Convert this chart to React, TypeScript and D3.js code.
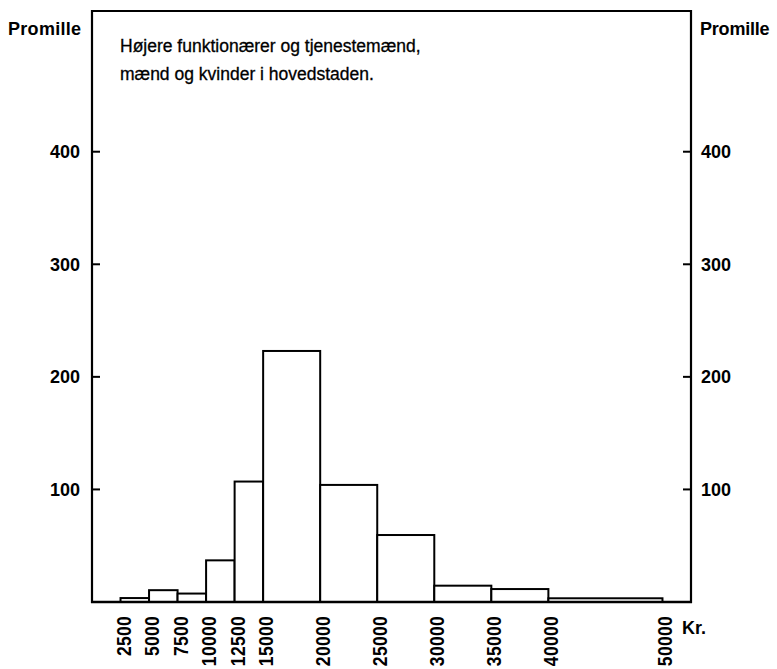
import React from "react";
import * as d3 from "d3";

const binStarts = [2500, 5000, 7500, 10000, 12500, 15000, 20000, 25000, 30000, 35000, 40000];
const binEnds = [5000, 7500, 10000, 12500, 15000, 20000, 25000, 30000, 35000, 40000, 50000];
const values = [3.5, 10.5, 7.5, 37, 107, 223, 104, 59.5, 14.5, 11.5, 3.3];
const xTickValues = [2500, 5000, 7500, 10000, 12500, 15000, 20000, 25000, 30000, 35000, 40000, 50000];
const yTickValues = [100, 200, 300, 400];
const titleLines = ["Højere funktionærer og tjenestemænd,", "mænd og kvinder i hovedstaden."];

const W = 777;
const H = 669;
const FONT = "'Liberation Sans', Arial, Helvetica, sans-serif";

export default function App() {
  const x = d3.scaleLinear().domain([0, 52500]).range([92, 691]);
  const y = d3.scaleLinear().domain([0, 525]).range([602, 11]);
  const x0 = x(0);
  const x1 = x(52500);
  const y0 = y(0);
  const yTop = y(525);

  return (
    <svg
      width={W}
      height={H}
      viewBox={`0 0 ${W} ${H}`}
      style={{ position: "absolute", left: 0, top: 0, background: "#fff" }}
      fontFamily={FONT}
    >
      <rect x={0} y={0} width={W} height={H} fill="#fff" />
      {/* bars */}
      {values.map((v, i) => (
        <rect
          key={i}
          x={x(binStarts[i])}
          y={y(v)}
          width={x(binEnds[i]) - x(binStarts[i])}
          height={y0 - y(v)}
          fill="#fff"
          stroke="#000"
          strokeWidth={2}
        />
      ))}
      {/* frame */}
      <line x1={x0} y1={yTop} x2={x1} y2={yTop} stroke="#000" strokeWidth={2} />
      <line x1={x0} y1={yTop - 1} x2={x0} y2={y0 + 1} stroke="#000" strokeWidth={2.2} />
      <line x1={x1} y1={yTop - 1} x2={x1} y2={y0 + 1} stroke="#000" strokeWidth={2.2} />
      <line x1={x0 - 1} y1={y0} x2={x1 + 1} y2={y0} stroke="#000" strokeWidth={2.5} />
      {/* y ticks */}
      {yTickValues.map((t) => (
        <g key={t}>
          <line x1={x0} x2={x0 + 8} y1={y(t)} y2={y(t)} stroke="#000" strokeWidth={2} />
          <line x1={x1 - 8} x2={x1} y1={y(t)} y2={y(t)} stroke="#000" strokeWidth={2} />
          <text x={x0 - 12} y={y(t) + 6.5} textAnchor="end" fontSize={18} fontWeight="bold">
            {t}
          </text>
          <text x={x1 + 10} y={y(t) + 6.5} textAnchor="start" fontSize={18} fontWeight="bold">
            {t}
          </text>
        </g>
      ))}
      {/* x tick labels */}
      {xTickValues.map((t) => (
        <text
          key={t}
          transform={`translate(${x(t) + 10},616) rotate(-90) scale(1,1.12)`}
          textAnchor="end"
          fontSize={17.5}
          fontWeight="bold"
          letterSpacing={0.3}
        >
          {t}
        </text>
      ))}
      <text x={682} y={634} fontSize={18} fontWeight="bold">Kr.</text>
      {/* axis titles */}
      <text x={8} y={35} fontSize={18} fontWeight="bold" letterSpacing={0.3}>Promille</text>
      <text x={700} y={35} fontSize={18} fontWeight="bold" letterSpacing={-0.2}>Promille</text>
      {/* title */}
      {titleLines.map((l, i) => (
        <text key={i} x={120} y={52 + i * 28} fontSize={17.5} stroke="#000" strokeWidth={0.3}>
          {l}
        </text>
      ))}
    </svg>
  );
}
